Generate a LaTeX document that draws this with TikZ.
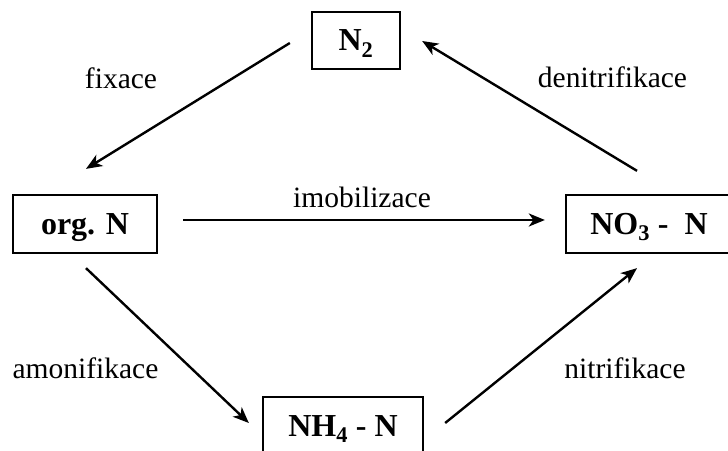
\documentclass[tikz,border=0pt]{standalone}
\usepackage{fontspec}
\setmainfont{Liberation Serif}
\usetikzlibrary{arrows.meta,calc}
\begin{document}
\begin{tikzpicture}[x=1bp,y=-1bp,
  species/.style={draw,line width=2.3bp,inner sep=0pt,text height=21bp,text depth=0pt,
    font=\fontsize{32bp}{36bp}\selectfont\bfseries},
  process/.style={inner sep=0pt,anchor=base,font=\fontsize{29.5bp}{34bp}\selectfont},
  flow/.style={line width=2.4bp,-{Stealth[length=16bp,width=13bp,inset=4.5bp]}}]
\useasboundingbox (0,0) rectangle (728,451);
\clip (0,0) rectangle (728,451);

% nitrogen pools
\node[species,minimum width=88bp,minimum height=57bp] (n2) at (356,40.5) {N\textsubscript{2}};
\node[species,minimum width=144bp,minimum height=58bp] (org) at (85,224) {org. N};
\node[species,minimum width=166bp,minimum height=58bp] (no3) at (649,224) {NO\textsubscript{3} -\ \ N};
\node[species,minimum width=160bp,minimum height=58bp] (nh4) at (343,426) {NH\textsubscript{4} - N};

% transformations
\draw[flow] ($(n2.west)+(-21,2.5)$) -- ($(org.north)+(1,-25)$);
\draw[flow] ($(no3.north)+(-12,-23)$) -- ($(n2.east)+(21,0.5)$);
\draw[flow] ($(org.east)+(25,-4)$) -- ($(no3.west)+(-20,-4)$);
\draw[flow] ($(org.south)+(1,14)$) -- ($(nh4.west)+(-13,-3)$);
\draw[flow] ($(nh4.east)+(21,-3)$) -- ($(no3.south)+(-12,14)$);

% process names
\node[process] (fix) at (121,89) {fixace};
\node[process] (denit) at (612.5,88) {denitrifikace};
\node[process] (imob) at (362,208) {imobilizace};
\node[process] (amon) at (85.5,378) {amonifikace};
\node[process] (nitr) at (625,378) {nitrifikace};
\end{tikzpicture}
\end{document}
